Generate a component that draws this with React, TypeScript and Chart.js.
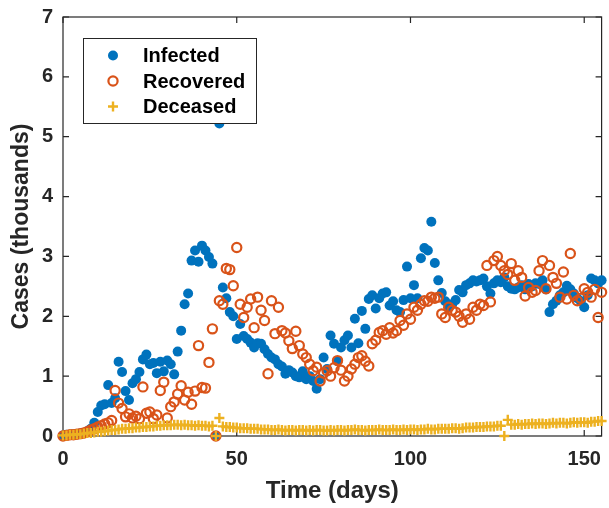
import { useEffect, useRef } from "react";
import { Chart, registerables, type ChartConfiguration, type Plugin } from "chart.js";
import { drawPoint } from "chart.js/helpers";

Chart.register(...registerables);

// one reading per day, in thousands
const DAYS = Array.from({ length: 156 }, (_, i) => i);

const INFECTED = [
  0.01, 0.02, 0.02, 0.03, 0.03, 0.04, 0.05, 0.08, 0.12, 0.22,
  0.4, 0.51, 0.53, 0.85, 0.55, 0.63, 1.24, 1.07, 0.75, 0.6,
  0.88, 0.95, 1.07, 1.28, 1.36, 1.2, 1.22, 1.05, 1.24, 1.08,
  1.26, 1.2, 1.03, 1.41, 1.76, 2.2, 2.38, 2.93, 3.1, 2.91,
  3.18, 3.1, 2.99, 2.88, 0, 5.22, 2.48, 2.3, 2.07, 2.0,
  1.62, 1.87, 1.67, 1.62, 1.56, 1.48, 1.55, 1.54, 1.45, 1.37,
  1.31, 1.28, 1.2, 1.16, 1.04, 1.1, 1.06, 1.0, 0.98, 1.08,
  0.95, 1.0, 0.92, 0.79, 0.95, 1.31, 1.12, 1.68, 1.54, 1.25,
  1.48, 1.6, 1.68, 1.48, 1.96, 1.55, 2.09, 1.79, 2.29, 2.35,
  2.13, 2.3, 2.38, 2.4, 2.18, 2.25, 2.1, 2.07, 2.27, 2.83,
  2.3, 2.52, 2.3, 2.97, 3.14, 3.1, 3.58, 2.89, 2.6, 2.39,
  2.25, 2.15, 2.2, 2.27, 2.44, 2.4, 2.52, 2.55, 2.6, 2.58,
  2.6, 2.63, 2.5, 2.38, 2.55, 2.6, 2.57, 2.65, 2.5, 2.46,
  2.45, 2.48, 2.52, 2.45, 2.54, 2.5, 2.55, 2.54, 2.6, 2.45,
  2.07, 2.2, 2.26, 2.35, 2.4, 2.51, 2.45, 2.38, 2.3, 2.25,
  2.15, 2.35, 2.63, 2.6, 2.55, 2.6,
];

const RECOVERED = [
  0.0, 0.01, 0.02, 0.02, 0.03, 0.04, 0.05, 0.07, 0.1, 0.12,
  0.15, 0.17, 0.2, 0.22, 0.26, 0.76, 0.55, 0.46, 0.32, 0.37,
  0.3, 0.33, 0.29, 0.82, 0.38, 0.4, 0.29, 0.35, 0.76, 0.9,
  0.3, 0.49, 0.57, 0.7, 0.84, 0.6, 0.73, 0.53, 0.75, 1.51,
  0.81, 0.8, 1.23, 1.79, 0, 2.26, 2.2, 2.8, 2.78, 2.51,
  3.15, 2.2, 1.98, 2.15, 2.29, 1.81, 2.32, 2.1, 1.93, 1.04,
  2.26, 1.71, 2.15, 1.76, 1.72, 1.59, 1.46, 1.75, 1.51, 1.37,
  1.31, 1.2, 1.09, 1.15, 0.92, 1.05, 1.09, 1.0, 1.14, 1.26,
  1.1, 0.92, 1.0, 1.12, 1.2, 1.31, 1.34, 1.25, 1.17, 1.54,
  1.6, 1.73, 1.76, 1.7, 1.81, 1.72, 1.76, 1.93, 1.85, 2.04,
  1.95, 2.15, 2.1, 2.2, 2.26, 2.25, 2.32, 2.3, 2.32, 2.04,
  1.98, 2.15, 2.1, 2.07, 2.0, 1.9, 2.04, 1.95, 2.15, 2.1,
  2.2, 2.18, 2.85, 2.24, 2.93, 3.0, 2.85, 2.76, 2.7, 2.88,
  2.6, 2.76, 2.65, 2.34, 2.48, 2.4, 2.43, 2.76, 2.93, 2.46,
  2.85, 2.65, 2.55, 2.32, 2.74, 2.29, 3.05, 2.35, 2.26, 2.3,
  2.46, 2.4, 2.32, 2.45, 1.98, 2.4,
];

const DECEASED = [
  0.01, 0.01, 0.02, 0.02, 0.03, 0.03, 0.04, 0.05, 0.05, 0.06,
  0.07, 0.07, 0.08, 0.09, 0.1, 0.1, 0.11, 0.12, 0.12, 0.13,
  0.13, 0.14, 0.14, 0.15, 0.15, 0.16, 0.16, 0.17, 0.17, 0.18,
  0.18, 0.18, 0.19, 0.19, 0.18, 0.19, 0.18, 0.18, 0.17, 0.18,
  0.17, 0.17, 0.16, 0.17, 0, 0.3, 0.16, 0.15, 0.15, 0.14,
  0.14, 0.13, 0.13, 0.13, 0.12, 0.12, 0.12, 0.11, 0.11, 0.11,
  0.1, 0.1, 0.11, 0.1, 0.09, 0.1, 0.1, 0.09, 0.1, 0.1,
  0.09, 0.1, 0.09, 0.1, 0.1, 0.09, 0.09, 0.1, 0.09, 0.1,
  0.1, 0.09, 0.1, 0.1, 0.11, 0.1, 0.1, 0.09, 0.1, 0.1,
  0.1, 0.11, 0.1, 0.1, 0.1, 0.11, 0.1, 0.1, 0.11, 0.1,
  0.11, 0.11, 0.1, 0.11, 0.11, 0.12, 0.11, 0.11, 0.12, 0.12,
  0.12, 0.12, 0.13, 0.13, 0.12, 0.13, 0.14, 0.14, 0.14, 0.15,
  0.15, 0.15, 0.16, 0.16, 0.16, 0.17, 0.17, 0, 0.27, 0.19,
  0.19, 0.2, 0.19, 0.2, 0.2, 0.21, 0.2, 0.21, 0.21, 0.2,
  0.21, 0.22, 0.21, 0.22, 0.22, 0.21, 0.22, 0.23, 0.22, 0.23,
  0.23, 0.22, 0.24, 0.24, 0.25, 0.25,
];

const SERIES_LABELS = ["Infected", "Recovered", "Deceased"];
const X_TICKS = [0, 50, 100, 150];
const Y_TICKS = [0, 1, 2, 3, 4, 5, 6, 7];

const AXIS_COLOR = "#262626";
const FONT = "'Liberation Sans', Arial, Helvetica, sans-serif";
const TICK_LEN = 6;

function toPoints(values: number[]) {
  return values.map((y, i) => ({ x: DAYS[i], y }));
}

// MATLAB style box with inward ticks on all four sides
const boxPlugin: Plugin<"scatter"> = {
  id: "matlabBox",
  beforeDatasetsDraw(chart) {
    const { ctx, chartArea, scales } = chart;
    const { left, right, top, bottom } = chartArea;
    ctx.save();
    ctx.strokeStyle = AXIS_COLOR;
    ctx.lineWidth = 1.2;
    ctx.strokeRect(left, top, right - left, bottom - top);
    ctx.beginPath();
    for (const tick of scales.x.ticks) {
      const px = scales.x.getPixelForValue(tick.value);
      ctx.moveTo(px, bottom);
      ctx.lineTo(px, bottom - TICK_LEN);
      ctx.moveTo(px, top);
      ctx.lineTo(px, top + TICK_LEN);
    }
    for (const tick of scales.y.ticks) {
      const py = scales.y.getPixelForValue(tick.value);
      ctx.moveTo(left, py);
      ctx.lineTo(left + TICK_LEN, py);
      ctx.moveTo(right, py);
      ctx.lineTo(right - TICK_LEN, py);
    }
    ctx.stroke();
    ctx.restore();
  },
};

const legendPlugin: Plugin<"scatter"> = {
  id: "boxLegend",
  afterDraw(chart) {
    const { ctx } = chart;
    ctx.save();
    ctx.fillStyle = "#ffffff";
    ctx.fillRect(83.5, 38.5, 173, 85);
    ctx.strokeStyle = AXIS_COLOR;
    ctx.lineWidth = 1;
    ctx.strokeRect(83.5, 38.5, 173, 85);
    chart.data.datasets.forEach((ds: any, i) => {
      const cy = 55.5 + i * 25.5;
      ctx.fillStyle = ds.backgroundColor;
      ctx.strokeStyle = ds.borderColor;
      ctx.lineWidth = ds.borderWidth;
      drawPoint(
        ctx,
        { pointStyle: ds.pointStyle, radius: ds.pointRadius, rotation: 0, borderWidth: ds.borderWidth },
        113,
        cy,
      );
      ctx.fillStyle = "#000000";
      ctx.font = `bold 20px ${FONT}`;
      ctx.textAlign = "left";
      ctx.textBaseline = "middle";
      ctx.fillText(ds.label, 143, cy + 1);
    });
    ctx.restore();
  },
};

function getConfig(): ChartConfiguration<"scatter"> {
  return {
    type: "scatter",
    data: {
      datasets: [
        {
          label: SERIES_LABELS[0],
          data: toPoints(INFECTED),
          pointStyle: "circle",
          pointRadius: 5,
          backgroundColor: "#0072BD",
          borderColor: "#0072BD",
          borderWidth: 0,
          clip: false,
          order: 3,
        },
        {
          label: SERIES_LABELS[1],
          data: toPoints(RECOVERED),
          pointStyle: "circle",
          pointRadius: 4.6,
          backgroundColor: "rgba(0,0,0,0)",
          borderColor: "#D95319",
          borderWidth: 2.2,
          clip: false,
          order: 2,
        },
        {
          label: SERIES_LABELS[2],
          data: toPoints(DECEASED),
          pointStyle: "cross",
          pointRadius: 5,
          backgroundColor: "#EDB120",
          borderColor: "#EDB120",
          borderWidth: 2.4,
          clip: false,
          order: 1,
        },
      ],
    },
    options: {
      responsive: false,
      animation: false,
      events: [],
      layout: { padding: { left: 0, top: 17, right: 1, bottom: 0 } },
      plugins: {
        legend: { display: false },
        tooltip: { enabled: false },
      },
      scales: {
        x: {
          type: "linear",
          min: 0,
          max: 155,
          grid: { display: false, drawTicks: false },
          border: { display: false },
          ticks: {
            color: AXIS_COLOR,
            font: { family: FONT, size: 20, weight: "bold" },
            padding: 11,
            maxRotation: 0,
            autoSkip: false,
          },
          afterBuildTicks(scale) {
            scale.ticks = X_TICKS.map((value) => ({ value }));
          },
          afterFit(scale: any) {
            scale.height = 72;
            scale.paddingLeft = 0;
            scale.paddingRight = 0;
          },
          title: {
            display: true,
            text: "Time (days)",
            color: AXIS_COLOR,
            font: { family: FONT, size: 24, weight: "bold" },
            padding: { top: 0, bottom: 2 },
          },
        },
        y: {
          type: "linear",
          min: 0,
          max: 7,
          grid: { display: false, drawTicks: false },
          border: { display: false },
          ticks: {
            color: AXIS_COLOR,
            font: { family: FONT, size: 20, weight: "bold" },
            padding: 10,
            autoSkip: false,
          },
          afterBuildTicks(scale) {
            scale.ticks = Y_TICKS.map((value) => ({ value }));
          },
          afterFit(scale: any) {
            scale.width = 63;
            scale.paddingTop = 0;
            scale.paddingBottom = 0;
          },
          title: {
            display: true,
            text: "Cases (thousands)",
            color: AXIS_COLOR,
            font: { family: FONT, size: 23, weight: "bold" },
            padding: { top: 8, bottom: 0 },
          },
        },
      },
    },
    plugins: [boxPlugin, legendPlugin],
  };
}

export default function App() {
  const canvasRef = useRef<HTMLCanvasElement>(null);

  useEffect(() => {
    document.body.style.margin = "0";
    if (!canvasRef.current) {
      return;
    }
    const chart = new Chart(canvasRef.current, getConfig());
    return () => {
      chart.destroy();
    };
  }, []);

  return (
    <div style={{ width: 609, height: 508, background: "#ffffff" }}>
      <canvas ref={canvasRef} width={609} height={508} />
    </div>
  );
}
